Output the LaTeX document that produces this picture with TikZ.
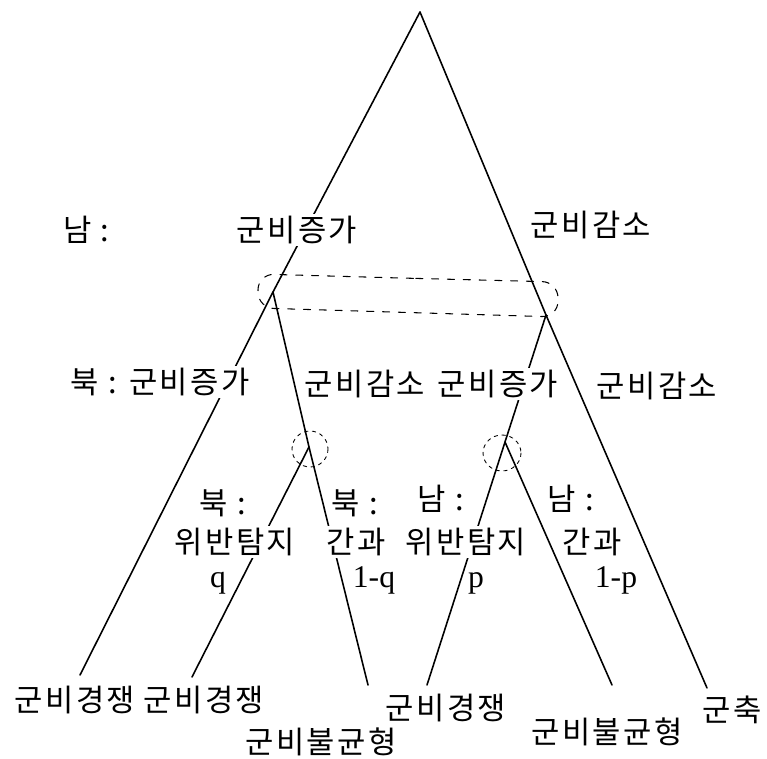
\documentclass[tikz,border=0pt]{standalone}
\usepackage{fontspec}
\setmainfont{Liberation Serif}
\newfontfamily\kr{Noto Sans CJK KR}[LetterSpace=8]
\usetikzlibrary{calc}

\begin{document}
\begin{tikzpicture}[x=0.02cm,y=-0.02cm,line cap=round,line join=round,
  branch/.style={line width=0.9pt},
  lbl/.style={font=\kr\fontsize{17.5}{20}\selectfont,fill=white,inner sep=1pt},
  prob/.style={font=\fontsize{18}{20}\selectfont,fill=white,inner sep=1pt,anchor=base},
  infoset/.style={line width=0.6pt,dash pattern=on 4pt off 5pt},
  smallset/.style={line width=0.5pt,dash pattern=on 2pt off 2.5pt}]
  \useasboundingbox (0,0) rectangle (767,759);
  % decision points
  \coordinate (root) at (420,12);
  \coordinate (northL) at (273,292);
  \coordinate (northR) at (546,315);
  \coordinate (southL) at (309,447);
  \coordinate (southR) at (505,442);
  % ends of the branches
  \foreach \name/\x/\y in {e1/80/675,e2/192/677,e3/368/685,e4/427/685,e5/612/685,e6/707/688}{
    \coordinate (\name) at (\x,\y);
  }
  % tree
  \draw[branch] (root)--(northL)--(e1);
  \draw[branch] (northL)--(southL)--(e3);
  \draw[branch] (southL)--(e2);
  \draw[branch] (root)--(northR)--(e6);
  \draw[branch] (northR)--(southR)--(e4);
  \draw[branch] (southR)--(e5);
  % information sets
  \draw[infoset,rounded corners=9pt] (400,278)--(558,282)--(558,317)--(258,308)--(258,274)--cycle;
  \draw[smallset] ($(southL)+(1,2)$) circle[x radius=18,y radius=18];
  \draw[smallset] ($(southR)+(-3,11)$) circle[x radius=19,y radius=18];
  % move labels
  \node[lbl,anchor=west] (south) at (61,230) {남 :};
  \node[lbl] (incS) at (297,230) {군비증가};
  \node[lbl] (decS) at (591,225) {군비감소};
  \node[lbl] (incN) at (160,382) {북 : 군비증가};
  \node[lbl] (decNL) at (365,384) {군비감소};
  \node[lbl] (incNR) at (498,384) {군비증가};
  \node[lbl] (decNR) at (657,386) {군비감소};
  % inspection labels
  \node[lbl] (northA) at (223,503) {북 :};
  \node[lbl] (northB) at (355,503) {북 :};
  \node[lbl] (southA) at (441,499) {남 :};
  \node[lbl] (southB) at (571,499) {남 :};
  \node[lbl] (detL) at (235,542) {위반탐지};
  \node[lbl] (misL) at (356,542) {간과};
  \node[lbl] (detR) at (466,542) {위반탐지};
  \node[lbl] (misR) at (592,542) {간과};
  \node[prob] (q) at (218,587) {q};
  \node[prob] (oneq) at (374,587) {1-q};
  \node[prob] (p) at (476,587) {p};
  \node[prob] (onep) at (616,587) {1-p};
  % outcomes
  \node[lbl] (out1) at (75,700) {군비경쟁};
  \node[lbl] (out2) at (204,700) {군비경쟁};
  \node[lbl] (out3) at (321,742) {군비불균형};
  \node[lbl] (out4) at (446,708) {군비경쟁};
  \node[lbl] (out5) at (607,732) {군비불균형};
  \node[lbl] (out6) at (732,710) {군축};
\end{tikzpicture}
\end{document}
